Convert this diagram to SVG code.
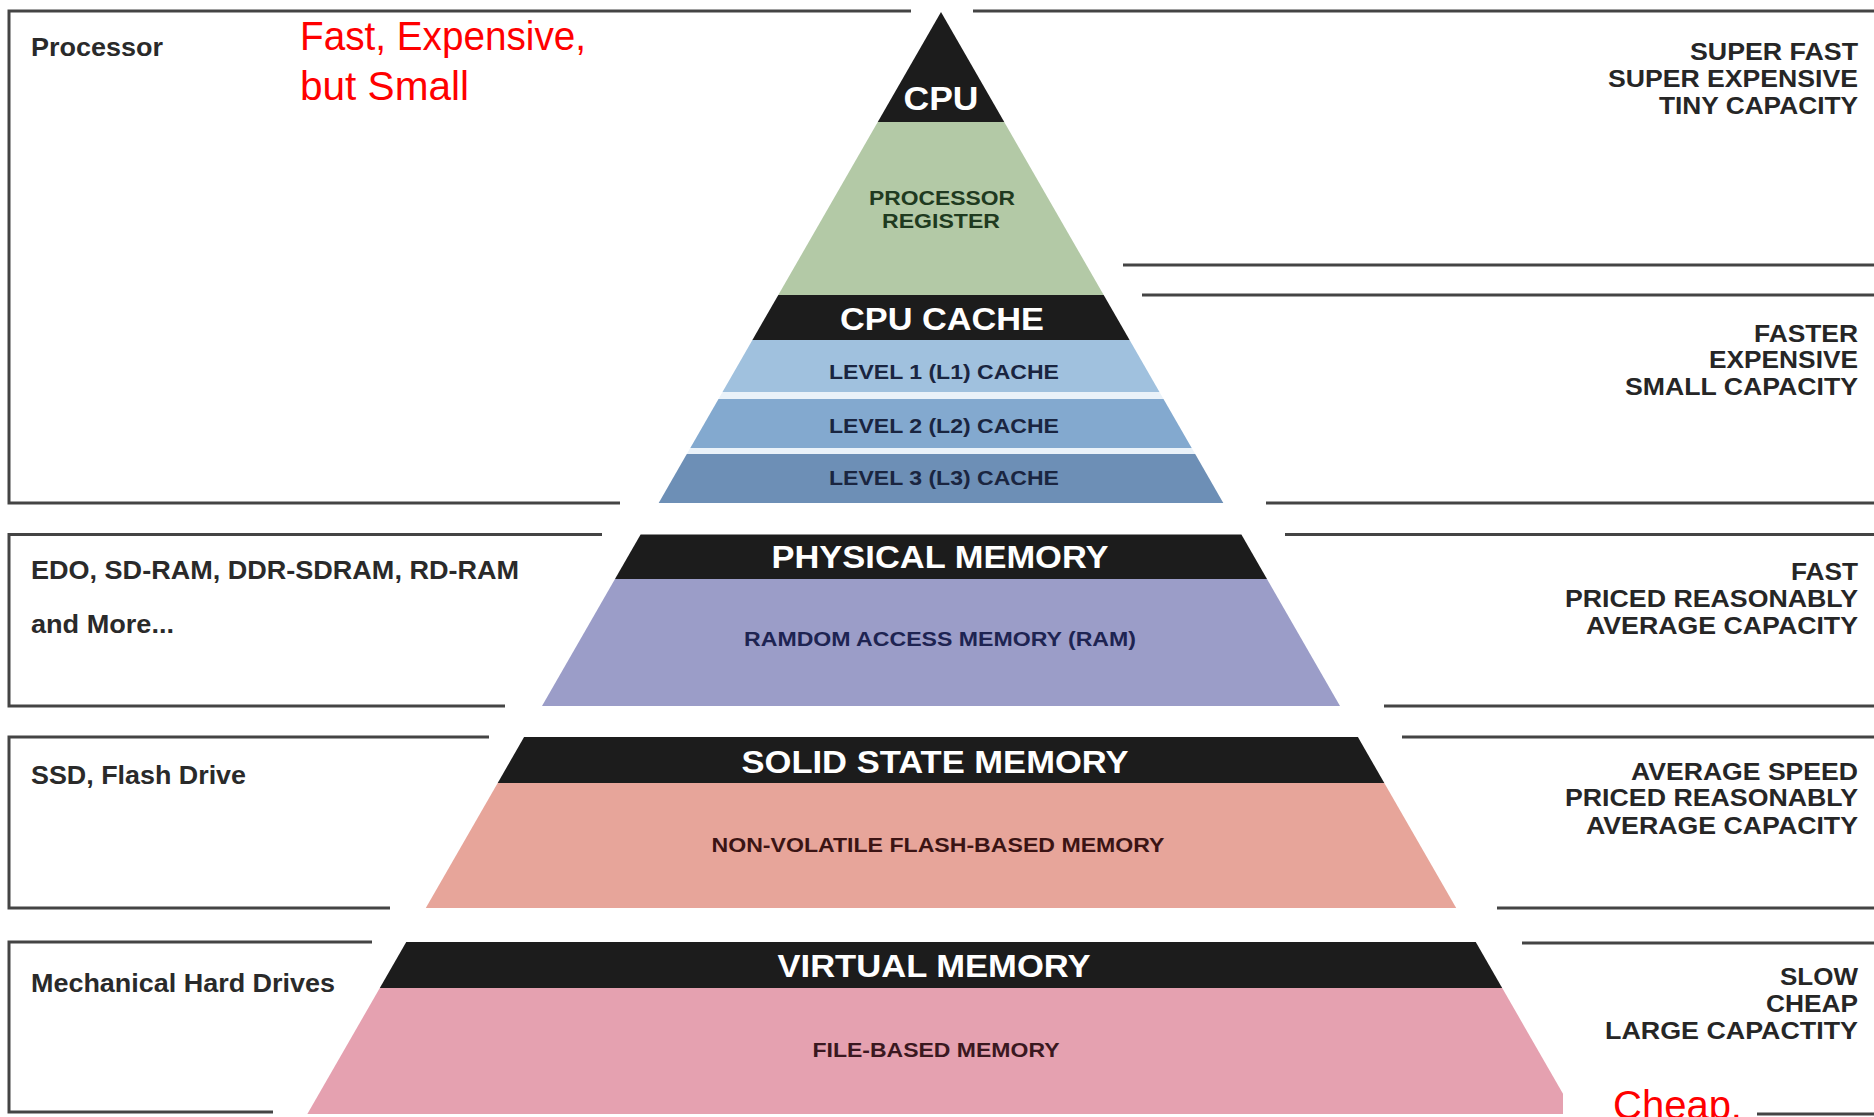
<svg xmlns="http://www.w3.org/2000/svg" width="1874" height="1117" viewBox="0 0 1874 1117">
<defs>
<style>
.band{fill:#1c1c1c}
.t{font-family:"Liberation Sans",Arial,sans-serif;font-weight:bold}
.head{fill:#ffffff;text-anchor:middle}
.sub{font-size:21px;text-anchor:middle}
.side{fill:#262626;font-size:24px;text-anchor:end}
.left{fill:#2a2a2a;font-size:25px}
.red{font-family:"Liberation Sans",Arial,sans-serif;fill:#ff0000;font-size:40px}
.frame{fill:none;stroke:#444444;stroke-width:3}
.gap{fill:#eaf2f9}
</style>
</defs>
<rect width="1874" height="1117" fill="#ffffff"/>

<g id="connectors">
  <path class="frame" d="M911,11 H9 V503 H620"/>
  <path class="frame" d="M602,534.5 H9 V706 H505"/>
  <path class="frame" d="M489,737 H9 V908 H390"/>
  <path class="frame" d="M372,942 H9 V1112 H273"/>
  <path class="frame" d="M973,11 H1874"/>
  <path class="frame" d="M1123,265 H1874"/>
  <path class="frame" d="M1142,295 H1874"/>
  <path class="frame" d="M1266,503 H1874"/>
  <path class="frame" d="M1285,534.5 H1874"/>
  <path class="frame" d="M1384,706 H1874"/>
  <path class="frame" d="M1402,737 H1874"/>
  <path class="frame" d="M1497,908 H1874"/>
  <path class="frame" d="M1522,943 H1874"/>
  <path class="frame" d="M1757,1114 H1874"/>
</g>

<g id="cpu">
  <polygon class="band" points="941,12 1004.25,122 877.75,122"/>
  <text class="t head" x="941" y="110" font-size="33" textLength="75" lengthAdjust="spacingAndGlyphs">CPU</text>
</g>

<g id="processor-register">
  <polygon fill="#b3c9a6" points="877.75,122 1004.25,122 1103.7,295 778.3,295"/>
  <text class="t sub" x="942" y="205" fill="#1f3a20" textLength="146" lengthAdjust="spacingAndGlyphs">PROCESSOR</text>
  <text class="t sub" x="941" y="228" fill="#1f3a20" textLength="118" lengthAdjust="spacingAndGlyphs">REGISTER</text>
</g>

<g id="cpu-cache">
  <polygon class="band" points="778.3,295 1103.7,295 1129.6,340 752.4,340"/>
  <text class="t head" x="942" y="330" font-size="32" textLength="204" lengthAdjust="spacingAndGlyphs">CPU CACHE</text>
</g>

<g id="l1-cache">
  <polygon fill="#a0c1de" points="752.4,340 1129.6,340 1159.5,392 722.5,392"/>
  <text class="t sub" x="944" y="379" fill="#1a2540" textLength="230" lengthAdjust="spacingAndGlyphs">LEVEL 1 (L1) CACHE</text>
</g>
<polygon class="gap" points="722.5,392 1159.5,392 1163.5,399 718.5,399"/>

<g id="l2-cache">
  <polygon fill="#83a9cf" points="718.5,399 1163.5,399 1191.7,448 690.3,448"/>
  <text class="t sub" x="944" y="433" fill="#1a2540" textLength="230" lengthAdjust="spacingAndGlyphs">LEVEL 2 (L2) CACHE</text>
</g>
<polygon class="gap" points="690.3,448 1191.7,448 1195.2,454 686.8,454"/>

<g id="l3-cache">
  <polygon fill="#6d8fb6" points="686.8,454 1195.2,454 1223.3,503 658.7,503"/>
  <text class="t sub" x="944" y="485" fill="#1a2540" textLength="230" lengthAdjust="spacingAndGlyphs">LEVEL 3 (L3) CACHE</text>
</g>

<g id="physical-memory">
  <polygon class="band" points="640.6,534.5 1241.4,534.5 1267,579 615,579"/>
  <polygon fill="#9b9dc8" points="615,579 1267,579 1340,706 542,706"/>
  <text class="t head" x="940" y="568" font-size="31" textLength="337" lengthAdjust="spacingAndGlyphs">PHYSICAL MEMORY</text>
  <text class="t sub" x="940" y="646" fill="#1e2452" textLength="392" lengthAdjust="spacingAndGlyphs">RAMDOM ACCESS MEMORY (RAM)</text>
</g>

<g id="solid-state-memory">
  <polygon class="band" points="524.1,737 1357.9,737 1384.3,783 497.7,783"/>
  <polygon fill="#e7a59a" points="497.7,783 1384.3,783 1456.2,908 425.8,908"/>
  <text class="t head" x="935" y="773" font-size="31" textLength="387" lengthAdjust="spacingAndGlyphs">SOLID STATE MEMORY</text>
  <text class="t sub" x="938" y="852" fill="#3b1414" textLength="453" lengthAdjust="spacingAndGlyphs">NON-VOLATILE FLASH-BASED MEMORY</text>
</g>

<g id="virtual-memory">
  <polygon class="band" points="406.25,942 1475.75,942 1502.2,988 379.8,988"/>
  <polygon fill="#e5a1b0" points="379.8,988 1502.2,988 1574.65,1114 307.35,1114"/>
  <text class="t head" x="934" y="977" font-size="31" textLength="313" lengthAdjust="spacingAndGlyphs">VIRTUAL MEMORY</text>
  <text class="t sub" x="936" y="1057" fill="#3a1820" textLength="247" lengthAdjust="spacingAndGlyphs">FILE-BASED MEMORY</text>
</g>
<rect x="1563" y="1078" width="190" height="39" fill="#ffffff"/>

<g id="left-labels">
  <text class="t left" x="31" y="56" textLength="132" lengthAdjust="spacingAndGlyphs">Processor</text>
  <text class="t left" x="31" y="579" textLength="488" lengthAdjust="spacingAndGlyphs">EDO, SD-RAM, DDR-SDRAM, RD-RAM</text>
  <text class="t left" x="31" y="633" textLength="143" lengthAdjust="spacingAndGlyphs">and More...</text>
  <text class="t left" x="31" y="784" textLength="215" lengthAdjust="spacingAndGlyphs">SSD, Flash Drive</text>
  <text class="t left" x="31" y="992" textLength="304" lengthAdjust="spacingAndGlyphs">Mechanical Hard Drives</text>
</g>

<g id="right-labels">
  <text class="t side" x="1858" y="60" textLength="168" lengthAdjust="spacingAndGlyphs">SUPER FAST</text>
  <text class="t side" x="1858" y="87" textLength="250" lengthAdjust="spacingAndGlyphs">SUPER EXPENSIVE</text>
  <text class="t side" x="1858" y="114" textLength="199" lengthAdjust="spacingAndGlyphs">TINY CAPACITY</text>
  <text class="t side" x="1858" y="342" textLength="104" lengthAdjust="spacingAndGlyphs">FASTER</text>
  <text class="t side" x="1858" y="368" textLength="149" lengthAdjust="spacingAndGlyphs">EXPENSIVE</text>
  <text class="t side" x="1858" y="395" textLength="233" lengthAdjust="spacingAndGlyphs">SMALL CAPACITY</text>
  <text class="t side" x="1858" y="580" textLength="67" lengthAdjust="spacingAndGlyphs">FAST</text>
  <text class="t side" x="1858" y="607" textLength="293" lengthAdjust="spacingAndGlyphs">PRICED REASONABLY</text>
  <text class="t side" x="1858" y="634" textLength="272" lengthAdjust="spacingAndGlyphs">AVERAGE CAPACITY</text>
  <text class="t side" x="1858" y="780" textLength="227" lengthAdjust="spacingAndGlyphs">AVERAGE SPEED</text>
  <text class="t side" x="1858" y="806" textLength="293" lengthAdjust="spacingAndGlyphs">PRICED REASONABLY</text>
  <text class="t side" x="1858" y="834" textLength="272" lengthAdjust="spacingAndGlyphs">AVERAGE CAPACITY</text>
  <text class="t side" x="1858" y="985" textLength="78" lengthAdjust="spacingAndGlyphs">SLOW</text>
  <text class="t side" x="1858" y="1012" textLength="92" lengthAdjust="spacingAndGlyphs">CHEAP</text>
  <text class="t side" x="1858" y="1039" textLength="253" lengthAdjust="spacingAndGlyphs">LARGE CAPACTITY</text>
</g>

<g id="annotations">
  <text class="red" x="300" y="50" textLength="286" lengthAdjust="spacingAndGlyphs">Fast, Expensive,</text>
  <text class="red" x="300" y="100" textLength="169" lengthAdjust="spacingAndGlyphs">but Small</text>
  <text class="red" x="1613" y="1119">Cheap,</text>
</g>
</svg>
